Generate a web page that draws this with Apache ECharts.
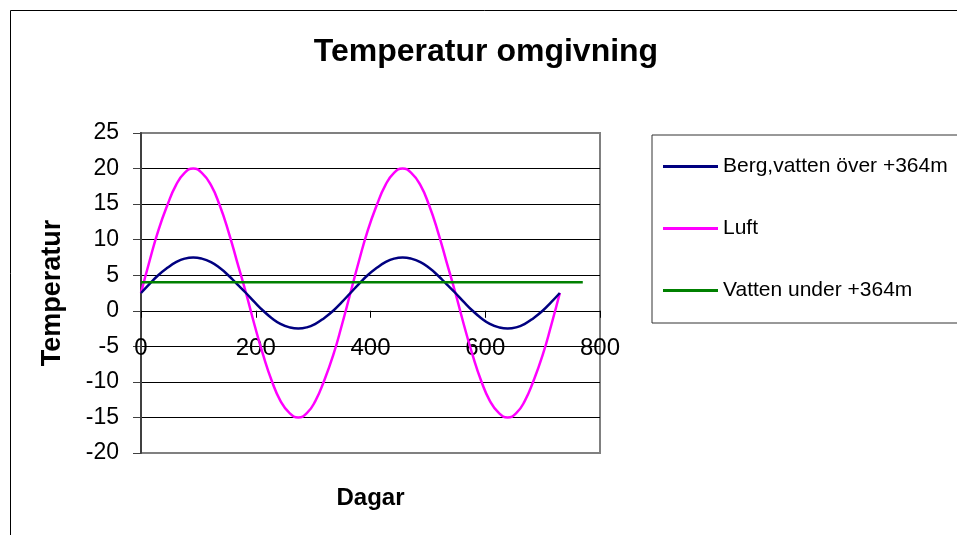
<!DOCTYPE html>
<html>
<head>
<meta charset="utf-8">
<script src="https://cdn.jsdelivr.net/npm/echarts@6/dist/echarts.min.js"></script>
<style>html,body{margin:0;padding:0;background:#fff}#c{width:957px;height:535px}</style>
</head>
<body>
<div id="c"></div>
<script>
var days = [0,15,30,46,61,76,91,106,122,137,152,167,183,198,213,228,243,259,274,289,304,319,335,350,
            365,380,395,411,426,441,456,471,487,502,517,532,548,563,578,593,608,624,639,654,669,684,700,715,730];
var bergValues = [2.5,3.79,5,6.04,6.83,7.33,7.5,7.33,6.83,6.04,5,3.79,2.5,1.21,0,-1.04,-1.83,-2.33,-2.5,-2.33,-1.83,-1.04,0,1.21,
                  2.5,3.79,5,6.04,6.83,7.33,7.5,7.33,6.83,6.04,5,3.79,2.5,1.21,0,-1.04,-1.83,-2.33,-2.5,-2.33,-1.83,-1.04,0,1.21,2.5];
var luftValues = [2.5,7.03,11.25,14.87,17.66,19.4,20,19.4,17.66,14.87,11.25,7.03,2.5,-2.03,-6.25,-9.87,-12.66,-14.4,-15,-14.4,-12.66,-9.87,-6.25,-2.03,
                  2.5,7.03,11.25,14.87,17.66,19.4,20,19.4,17.66,14.87,11.25,7.03,2.5,-2.03,-6.25,-9.87,-12.66,-14.4,-15,-14.4,-12.66,-9.87,-6.25,-2.03,2.5];
var vattenDays = [0,770];
var vattenValues = [4,4];
var seriesNames = ['Berg,vatten över +364m','Luft','Vatten under +364m'];
var xTicks = {min:0,max:800,interval:200};
var yTicks = {min:-20,max:25,interval:5};

function pairs(xs, ys){ return xs.map(function(x,i){ return [x, ys[i]]; }); }

var FONT = "'Liberation Sans', Arial, sans-serif";
var GRID_TOP = 133, GRID_BOTTOM_PX = 453;
// place the x axis at value 0 of the y scale
var zeroOffset = -(GRID_BOTTOM_PX - GRID_TOP) * (0 - yTicks.min) / (yTicks.max - yTicks.min);

var chart = echarts.init(document.getElementById('c'));
chart.setOption({
  animation:false,
  backgroundColor:'#fff',
  textStyle:{fontFamily:FONT},
  graphic:[
    {type:'rect', shape:{x:10.5,y:10.5,width:1000,height:1000}, style:{fill:'none',stroke:'#000',lineWidth:1}, z:-1},
    {type:'text', x:486, y:52, style:{text:'Temperatur omgivning', font:"bold 32px "+FONT, fill:'#000', textAlign:'center', textVerticalAlign:'middle'}}
  ],
  grid:{left:141,right:357,top:GRID_TOP,bottom:535-GRID_BOTTOM_PX,outerBoundsMode:'none',containLabel:false,show:true,borderColor:'#808080',borderWidth:2,backgroundColor:'transparent'},
  legend:{
    orient:'vertical', left:652, top:135,
    padding:[21,30,22,11],
    icon:'rect',
    itemGap:41, itemWidth:55, itemHeight:3, itemTextGap:5,
    borderColor:'#333', borderWidth:1,
    textStyle:{fontSize:21,color:'#000',fontFamily:FONT},
    data:seriesNames
  },
  xAxis:{
    type:'value', min:xTicks.min, max:xTicks.max, interval:xTicks.interval,
    position:'bottom', offset:zeroOffset,
    name:'Dagar', nameLocation:'middle', nameGap:176,
    nameTextStyle:{fontSize:24,fontWeight:'bold',color:'#000',fontFamily:FONT},
    axisLine:{onZero:false,lineStyle:{color:'#000',width:1}},
    axisTick:{show:true,length:7,lineStyle:{color:'#000'}},
    axisLabel:{fontSize:24,color:'#000',margin:26,fontFamily:FONT,showMinLabel:true,showMaxLabel:true,hideOverlap:false},
    splitLine:{show:false}
  },
  yAxis:{
    type:'value', min:yTicks.min, max:yTicks.max, interval:yTicks.interval,
    name:'Temperatur', nameLocation:'middle', nameGap:75, nameRotate:90,
    nameTextStyle:{fontSize:27,fontWeight:'bold',color:'#000',fontFamily:FONT},
    axisLine:{show:true,lineStyle:{color:'#404040',width:2}},
    axisTick:{show:true,length:8,lineStyle:{color:'#404040'}},
    axisLabel:{fontSize:23,color:'#000',margin:22,fontFamily:FONT,showMinLabel:true,showMaxLabel:true,hideOverlap:false},
    splitLine:{show:true,lineStyle:{color:['#808080','#000','#000','#000','#000','#000','#000','#000','#000','#808080'],width:1}}
  },
  series:[
    {name:seriesNames[0], type:'line', smooth:true, symbol:'none', data:pairs(days,bergValues), lineStyle:{color:'#000080',width:2.5}, itemStyle:{color:'#000080'}, z:3},
    {name:seriesNames[1], type:'line', smooth:true, symbol:'none', data:pairs(days,luftValues), lineStyle:{color:'#FF00FF',width:2.5}, itemStyle:{color:'#FF00FF'}, z:2},
    {name:seriesNames[2], type:'line', symbol:'none', data:pairs(vattenDays,vattenValues), lineStyle:{color:'#008000',width:2.5}, itemStyle:{color:'#008000'}, z:4}
  ]
});
</script>
</body>
</html>
